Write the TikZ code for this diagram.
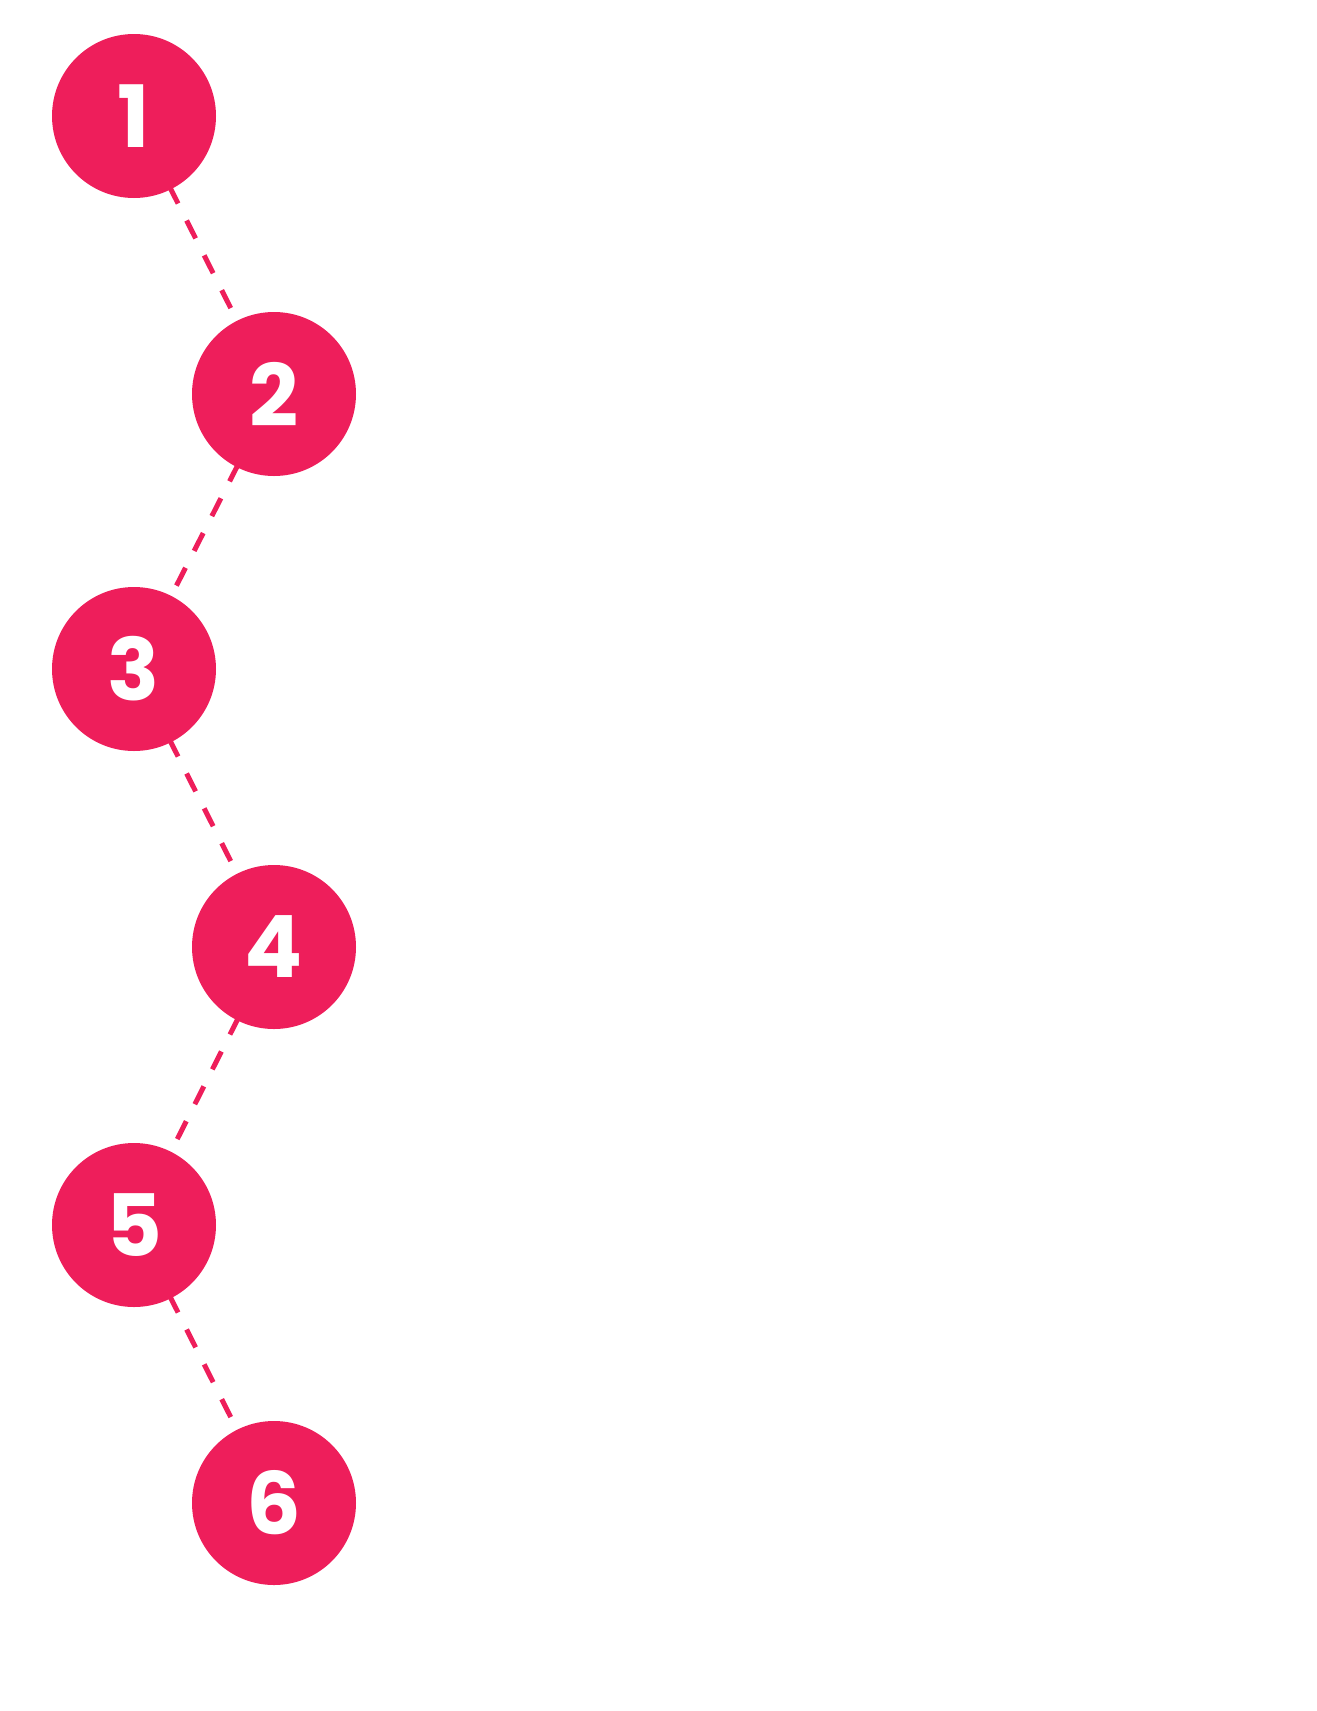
\documentclass[tikz,border=0pt]{standalone}
\usepackage{fontspec}
\setmainfont{Poppins}
\definecolor{pk}{HTML}{EE1E5B}
\begin{document}
\begin{tikzpicture}[x=1pt,y=-1pt,
  num/.style={circle,fill=pk,minimum size=164pt,inner sep=0pt,text=white,font=\fontsize{86}{86}\selectfont\bfseries},
  link/.style={draw=pk,line width=5pt,dash pattern=on 20pt off 19pt}]
\useasboundingbox (0,0) rectangle (1317,1711);
\coordinate (c1) at (134,116);
\coordinate (c2) at (274,394);
\coordinate (c3) at (134,669);
\coordinate (c4) at (274,947);
\coordinate (c5) at (134,1225);
\coordinate (c6) at (274,1503);
\draw[link] (c1)--(c2); \draw[link] (c2)--(c3); \draw[link] (c3)--(c4);
\draw[link] (c4)--(c5); \draw[link] (c5)--(c6);
\foreach \i in {1,...,6} \node[num] (n\i) at (c\i) {\i};
\end{tikzpicture}
\end{document}
